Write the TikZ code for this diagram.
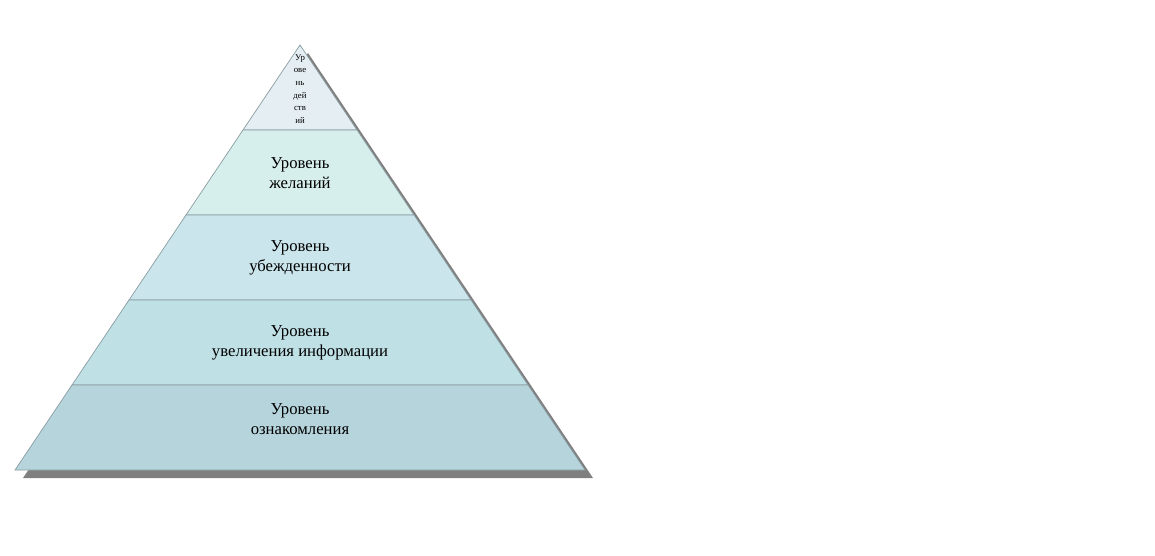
\documentclass[tikz,border=0pt]{standalone}
\usepackage{fontspec}
\setmainfont{Liberation Serif}
\usetikzlibrary{positioning,calc}
\definecolor{lvlone}{HTML}{E4EEF3}
\definecolor{lvltwo}{HTML}{D6EEEC}
\definecolor{lvlthree}{HTML}{CAE5EB}
\definecolor{lvlfour}{HTML}{BFE0E5}
\definecolor{lvlfive}{HTML}{B5D4DB}
\definecolor{edgegray}{HTML}{8A9CA2}
\definecolor{shadowgray}{HTML}{7F7F7F}
\tikzset{
  % pyramid
  layer/.style={draw=edgegray,line width=0.4pt},
  shade/.style={fill=shadowgray,draw=none},
  lbl/.style={align=center,inner sep=0pt,font=\fontsize{9.5}{11.3}\selectfont},
  toplbl/.style={align=center,inner sep=0pt,font=\fontsize{5}{7.25}\selectfont},
}
\begin{document}
\begin{tikzpicture}[x=0.02cm,y=-0.02cm]
  \useasboundingbox (0,0) rectangle (1155,555);
  \coordinate (apex) at (300,45);
  \coordinate (bl) at (15,470);
  \coordinate (br) at (585,470);
  % shadow
  \fill[shade] ($(apex)+(8,8)$) -- ($(br)+(8,8)$) -- ($(bl)+(8,8)$) -- cycle;
  % layers, top to bottom
  \foreach \ya/\yb/\col in {45/130/lvlone,130/215/lvltwo,215/300/lvlthree,
                            300/385/lvlfour,385/470/lvlfive}{
    \filldraw[layer,fill=\col]
      ($(apex)!{(\ya-45)/425}!(bl)$) -- ($(apex)!{(\yb-45)/425}!(bl)$) --
      ($(apex)!{(\yb-45)/425}!(br)$) -- ($(apex)!{(\ya-45)/425}!(br)$) -- cycle;
  }
  \node[toplbl] (act) at (300,89) {Ур\\ове\\нь\\дей\\ств\\ий};
  \node[lbl] (wish) at (300,173) {Уровень\\желаний};
  \node[lbl] (belief) at (300,258) {Уровень\\убежденности};
  \node[lbl] (info) at (300,343) {Уровень\\увеличения информации};
  \node[lbl] (intro) at (300,419) {Уровень\\ознакомления};
\end{tikzpicture}
\end{document}
